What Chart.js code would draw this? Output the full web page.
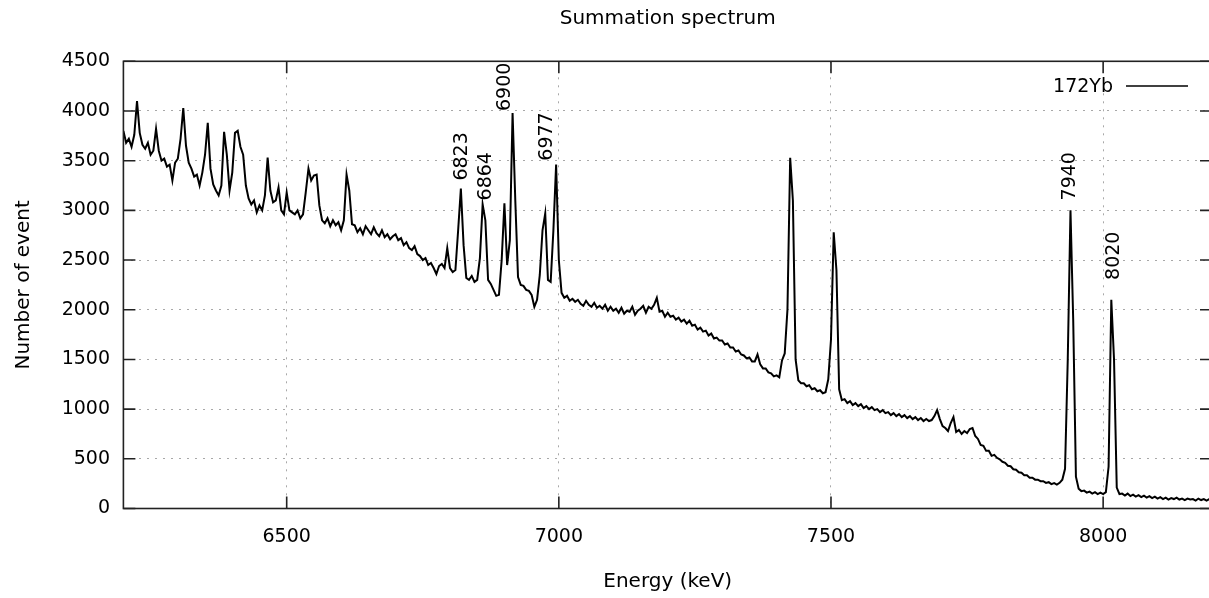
<!DOCTYPE html>
<html>
<head>
<meta charset="utf-8">
<script src="https://cdn.jsdelivr.net/npm/chart.js@4"></script>
<style>
html,body{margin:0;padding:0;overflow:hidden;background:#fff;width:1209px;height:598px}
canvas{display:block}
</style>
</head>
<body>
<canvas id="c" width="1224" height="598" style="width:1224px;height:598px"></canvas>
<script>
// Spectrum: counts per 5 keV bin starting at 6200 keV
const energyStart = 6200;
const binWidth = 5;
const counts = [
  // 6200-6295
  3800,3680,3720,3640,3760,4100,3780,3660,3620,3680,3560,3600,3820,3600,3500,3520,3440,3460,3300,3480,
  // 6300-6395
  3520,3720,4030,3650,3480,3420,3340,3360,3250,3380,3560,3880,3420,3260,3200,3150,3250,3790,3560,3200,
  // 6400-6495
  3380,3780,3800,3640,3560,3250,3120,3060,3100,2980,3050,3000,3150,3530,3200,3080,3100,3230,3000,2960,
  // 6500-6595
  3180,3000,2980,2960,3000,2920,2960,3180,3420,3300,3350,3360,3050,2900,2870,2920,2840,2900,2850,2880,
  // 6600-6695
  2800,2900,3360,3200,2860,2850,2780,2820,2760,2840,2800,2760,2830,2770,2740,2800,2730,2760,2710,2740,
  // 6700-6795
  2760,2700,2720,2650,2680,2620,2600,2640,2560,2540,2500,2520,2450,2470,2420,2360,2440,2460,2420,2620,
  // 6800-6895
  2420,2380,2400,2800,3220,2650,2320,2300,2340,2280,2300,2520,3060,2900,2300,2260,2200,2140,2150,2500,
  // 6900-6995
  3070,2450,2700,3980,3100,2330,2250,2240,2200,2190,2150,2030,2100,2350,2800,2970,2300,2280,2800,3460,
  // 7000-7095
  2500,2170,2120,2140,2090,2110,2080,2100,2060,2040,2090,2050,2030,2070,2020,2040,2010,2050,1990,2030,
  // 7100-7195
  1990,2010,1970,2020,1960,1990,1980,2030,1950,1990,2010,2040,1970,2030,2010,2050,2120,1980,1990,1930,
  // 7200-7295
  1970,1930,1940,1900,1920,1880,1900,1860,1890,1840,1850,1800,1820,1780,1790,1740,1760,1710,1720,1690,
  // 7300-7395
  1690,1650,1660,1620,1620,1580,1590,1550,1540,1510,1520,1480,1480,1550,1450,1410,1410,1370,1360,1330,
  // 7400-7495
  1340,1320,1490,1560,2000,3530,3100,1500,1290,1260,1260,1230,1240,1200,1210,1180,1190,1160,1170,1300,
  // 7500-7595
  1700,2780,2400,1200,1090,1100,1060,1080,1040,1060,1030,1050,1010,1030,1000,1020,990,1000,970,990,
  // 7600-7695
  960,970,940,960,930,950,920,940,910,930,900,920,890,910,880,900,880,890,930,990,
  // 7700-7795
  900,830,810,780,860,920,770,790,750,780,760,800,810,730,700,640,630,580,580,530,
  // 7800-7895
  540,510,495,470,460,430,425,395,390,365,360,335,335,310,310,290,290,275,275,258,
  // 7900-7995
  265,245,255,240,258,290,400,1500,3000,1900,320,200,175,180,160,170,150,165,145,160,
  // 8000-8095
  145,165,420,2100,1500,210,145,150,130,150,125,140,120,135,115,130,110,125,105,120,
  // 8100-8200
  100,115,95,110,90,105,95,110,90,100,85,100,90,95,80,100,85,95,80,95,85
];

const xTickValues = [6500, 7000, 7500, 8000];
const yTickValues = [0, 500, 1000, 1500, 2000, 2500, 3000, 3500, 4000, 4500];

const peakLabels = ['6823', '6864', '6900', '6977', '7940', '8020'];
const peakLabelEnergy = [6823, 6866, 6901, 6978, 7940, 8020];
const peakLabelCount = [3300, 3100, 4000, 3500, 3100, 2300];

const seriesName = '172Yb';
const chartTitle = 'Summation spectrum';
const xTitle = 'Energy (keV)';
const yTitle = 'Number of event';

const FONT = 'DejaVu Sans';
Chart.defaults.font.family = FONT;
Chart.defaults.font.size = 19;
Chart.defaults.color = '#000';

const points = counts.map((c, i) => ({ x: energyStart + i * binWidth, y: c }));

const frame = {
  id: 'frame',
  afterDatasetsDraw(chart) {
    const { ctx, chartArea: a, scales: { x, y } } = chart;
    ctx.save();
    ctx.fillStyle = '#000';
    ctx.font = '19px "' + FONT + '"';
    ctx.textAlign = 'left';
    ctx.textBaseline = 'middle';
    peakLabels.forEach((t, i) => {
      ctx.save();
      ctx.translate(x.getPixelForValue(peakLabelEnergy[i]), y.getPixelForValue(peakLabelCount[i]));
      ctx.rotate(-Math.PI / 2);
      ctx.fillText(t, 0, 0);
      ctx.restore();
    });
    ctx.textAlign = 'right';
    ctx.fillText(seriesName, 1113, 87);
    ctx.strokeStyle = '#000';
    ctx.lineWidth = 1.6;
    ctx.beginPath();
    ctx.moveTo(1126, 86);
    ctx.lineTo(1188, 86);
    ctx.stroke();
    ctx.strokeStyle = '#222';
    ctx.lineWidth = 1.6;
    ctx.strokeRect(a.left, a.top, a.right - a.left, a.bottom - a.top);
    const tl = 12;
    ctx.beginPath();
    xTickValues.forEach(v => {
      const px = x.getPixelForValue(v);
      ctx.moveTo(px, a.bottom); ctx.lineTo(px, a.bottom - tl);
      ctx.moveTo(px, a.top); ctx.lineTo(px, a.top + tl);
    });
    yTickValues.forEach(v => {
      const py = y.getPixelForValue(v);
      ctx.moveTo(a.left, py); ctx.lineTo(a.left + tl, py);
      ctx.moveTo(a.right, py); ctx.lineTo(a.right - tl, py);
    });
    ctx.stroke();
    ctx.restore();
  }
};

new Chart(document.getElementById('c'), {
  type: 'line',
  data: {
    datasets: [{
      label: seriesName,
      data: points,
      borderColor: '#000',
      backgroundColor: '#000',
      borderWidth: 2,
      pointRadius: 0,
      tension: 0,
      fill: false
    }]
  },
  options: {
    responsive: false,
    animation: false,
    events: [],
    layout: { padding: { left: 0, right: 12, top: 0, bottom: 0 } },
    plugins: {
      legend: { display: false },
      tooltip: { enabled: false },
      title: {
        display: true,
        fullSize: false,
        text: chartTitle,
        color: '#000',
        font: { family: FONT, size: 20, weight: 'normal' },
        padding: { top: 7, bottom: 30.3 }
      }
    },
    scales: {
      x: {
        type: 'linear',
        min: 6200,
        max: 8200,
        afterBuildTicks: (axis) => { axis.ticks = xTickValues.map(v => ({ value: v })); },
        afterFit: (scale) => { scale.height = 89.5; },
        ticks: { autoSkip: false, maxRotation: 0, padding: 17, color: '#000', font: { family: FONT, size: 19 }, callback: (v) => String(v) },
        grid: { color: '#a8a8a8', lineWidth: 1, drawTicks: false },
        border: { display: false, dash: [2, 6] },
        title: { display: true, text: xTitle, color: '#000', font: { family: FONT, size: 20 }, padding: { top: 0, bottom: 4 } }
      },
      y: {
        type: 'linear',
        min: 0,
        max: 4500,
        afterBuildTicks: (axis) => { axis.ticks = yTickValues.map(v => ({ value: v })); },
        afterFit: (scale) => { scale.width = 123.4; },
        ticks: { padding: 13.4, color: '#000', font: { family: FONT, size: 19 }, callback: (v) => String(v) },
        grid: { color: '#a8a8a8', lineWidth: 1, drawTicks: false },
        border: { display: false, dash: [2, 6] },
        title: { display: true, text: yTitle, color: '#000', font: { family: FONT, size: 20 }, padding: { top: 11.5, bottom: 0 } }
      }
    }
  },
  plugins: [frame]
});
</script>
</body>
</html>
